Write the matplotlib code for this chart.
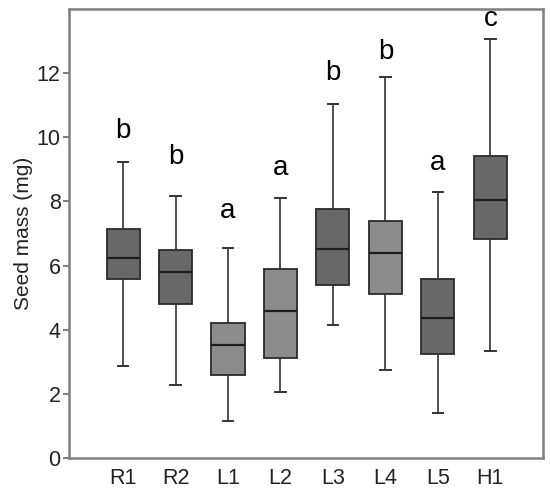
import matplotlib
matplotlib.use('Agg')
import matplotlib.pyplot as plt

plt.rcParams['font.family'] = ['Liberation Sans', 'DejaVu Sans']

# --- Data ---
groups = ['R1', 'R2', 'L1', 'L2', 'L3', 'L4', 'L5', 'H1']
whisker_low = [2.88, 2.28, 1.16, 2.06, 4.14, 2.75, 1.39, 3.34]
q1 = [5.59, 4.80, 2.59, 3.13, 5.39, 5.12, 3.24, 6.82]
median = [6.24, 5.81, 3.53, 4.57, 6.52, 6.40, 4.35, 8.06]
q3 = [7.13, 6.48, 4.20, 5.88, 7.75, 7.39, 5.58, 9.42]
whisker_high = [9.24, 8.17, 6.56, 8.11, 11.03, 11.89, 8.29, 13.06]
letters = ['b', 'b', 'a', 'a', 'b', 'b', 'a', 'c']
letter_y = [10.2, 9.4, 7.7, 9.05, 11.99, 12.65, 9.2, 13.7]
shade = ['dark', 'dark', 'light', 'light', 'dark', 'light', 'dark', 'dark']

colors = {'dark': '#686868', 'light': '#8c8c8c'}

stats = []
for i, g in enumerate(groups):
    stats.append({'label': g, 'whislo': whisker_low[i], 'q1': q1[i],
                  'med': median[i], 'q3': q3[i], 'whishi': whisker_high[i],
                  'fliers': []})

fig = plt.figure(figsize=(5.5, 4.92), dpi=100)
ax = fig.add_axes([0.1255, 0.0691, 0.8615, 0.9126])

positions = list(range(1, len(groups) + 1))
bp = ax.bxp(stats, positions=positions, widths=0.63, patch_artist=True,
            showfliers=False,
            boxprops=dict(edgecolor='#2a2a2a', linewidth=1.3),
            medianprops=dict(color='#1e1e1e', linewidth=1.6),
            whiskerprops=dict(color='#333333', linewidth=1.2),
            capprops=dict(color='#333333', linewidth=1.4),
            capwidths=0.2)
for patch, s in zip(bp['boxes'], shade):
    patch.set_facecolor(colors[s])

for x, t, y in zip(positions, letters, letter_y):
    ax.text(x, y, t, ha='center', va='center', fontsize=20, color='black')

ax.set_xlim(-0.03, 9.0)
ax.set_ylim(0, 14)
ax.set_yticks([0, 2, 4, 6, 8, 10, 12])
ax.set_xticks(positions)
ax.set_xticklabels(groups)
ax.set_ylabel('Seed mass (mg)', fontsize=15, color='#222222', labelpad=3)

for sp in ax.spines.values():
    sp.set_color('#808080')
    sp.set_linewidth(1.8)
ax.tick_params(axis='y', length=4, width=1.5, color='#808080',
               labelsize=15.5, labelcolor='#222222', pad=2)
ax.tick_params(axis='x', length=0, labelsize=15.5, labelcolor='#222222', pad=7)

fig.savefig('out.png', dpi=100)
